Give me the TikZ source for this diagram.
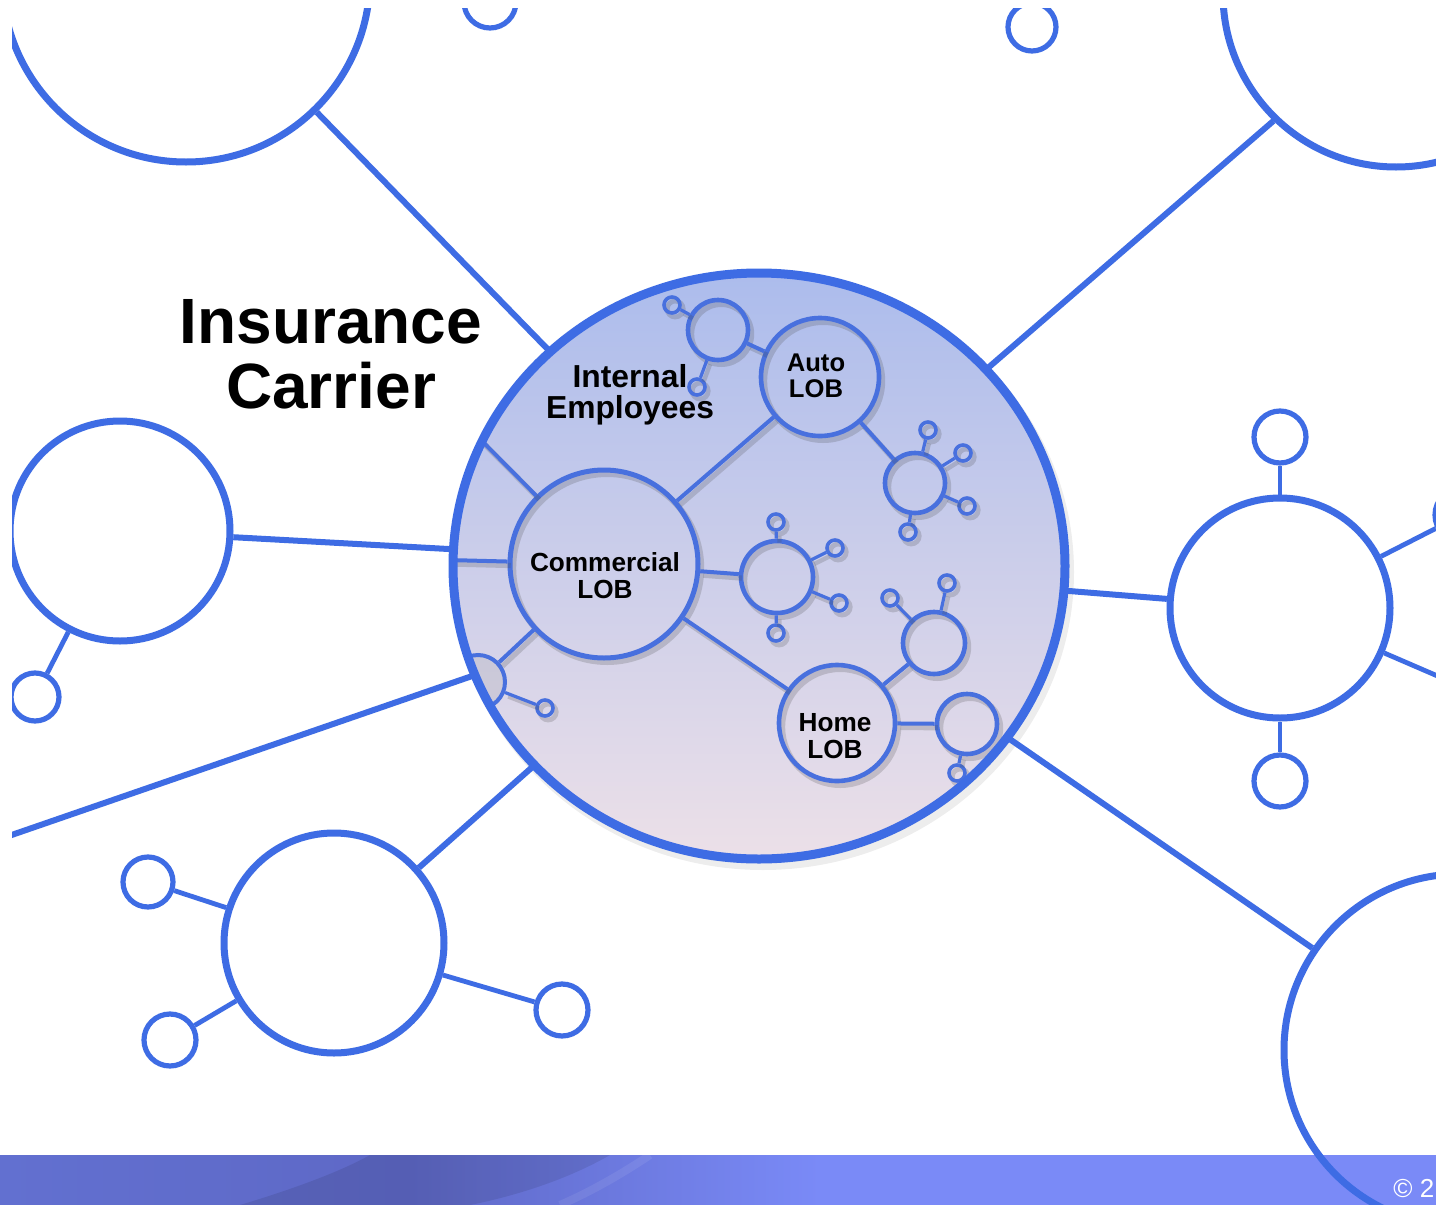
\documentclass[tikz,border=0pt]{standalone}
\usepackage{fontspec}
\setmainfont{Liberation Sans}
\usetikzlibrary{shapes.geometric}
\definecolor{lb}{RGB}{62,108,228}
\definecolor{ib}{RGB}{72,112,222}
\definecolor{ftop}{RGB}{172,188,236}
\definecolor{fbot}{RGB}{236,224,232}
\definecolor{bandA}{RGB}{98,112,208}
\definecolor{bandM}{RGB}{94,104,198}
\definecolor{bandB}{RGB}{122,138,247}
\tikzset{
  oc/.style={circle, draw=lb, line width=3.5pt, inner sep=0pt, minimum size=#1},
  os/.style={circle, draw=lb, line width=2.6pt, inner sep=0pt, minimum size=#1},
  ol/.style={draw=lb, line width=3pt},
  osl/.style={draw=lb, line width=2.4pt},
  sh/.style={preaction={draw=black!70, draw opacity=0.22, line width=#1, transform canvas={shift={(1.6pt,-2pt)}}}},
  ic/.style={circle, draw=ib, line width=2.3pt, inner sep=0pt, minimum size=#1, sh=3pt},
  it/.style={circle, draw=ib, line width=1.8pt, inner sep=0pt, minimum size=#1, sh=2.4pt},
  il/.style={draw=ib, line width=2pt, sh=2.6pt},
  itl/.style={draw=ib, line width=1.6pt, sh=2.2pt},
  lab/.style={font=\bfseries\fontsize{13.1}{13.5}\selectfont, align=center, inner sep=0pt, text=black},
  mainshape/.style={ellipse, minimum width=306pt, minimum height=293pt, inner sep=0pt},
}
\begin{document}
\begin{tikzpicture}[x=0.5pt, y=-0.5pt]
\useasboundingbox (0,0) rectangle (1436,1205);
\fill[white] (0,0) rectangle (1436,1205);
% bottom band
\shade[left color=bandA, right color=bandB, middle color=bandM] (0,1155) rectangle (820,1205);
\fill[bandB] (819,1155) rectangle (1436,1205);
\fill[black, opacity=0.09] (370,1155) -- (610,1155) .. controls (570,1178) and (520,1195) .. (470,1205) -- (240,1205) .. controls (290,1190) and (340,1172) .. (370,1155) -- cycle;
\draw[white, opacity=0.08, line width=4pt] (650,1155) .. controls (620,1175) and (590,1192) .. (560,1205);

\begin{scope}
\clip (12,8) rectangle (1436,1205);
% main circle body
\node[mainshape, top color=ftop, bottom color=fbot,
      preaction={draw=black, draw opacity=0.07, line width=5pt, transform canvas={shift={(2pt,-3pt)}}}] (main) at (759,566) {};
% outer circles
\node[oc=184pt] (TL) at (186,-22) {};
\node[oc=173pt] (TR) at (1396,-6) {};
\node[os=26pt] (TS) at (490,2) {};
\node[os=24pt] (TRS) at (1032,27) {};
\node[oc=110pt] (L) at (120,531) {};
\node[os=24pt] (LS) at (35,697) {};
\node[oc=110pt] (BL) at (334,943) {};
\node[os=25pt] (BL1) at (148,882) {};
\node[os=26pt] (BL2) at (170,1040) {};
\node[os=26pt] (BL3) at (562,1010) {};
\node[oc=110pt] (R) at (1280,608) {};
\node[os=26pt] (R1) at (1280,437) {};
\node[os=26pt] (R2) at (1280,781) {};
\node[os=27pt] (R3) at (1462,515) {};
\node[oc=176pt] (BR) at (1460,1050) {};
\coordinate (lfree) at (0,839);
\coordinate (rfree) at (1470,690);
% outer connectors
\draw[ol] (TL) -- (main);
\draw[ol] (TR.226.9) -- (main);
\draw[ol] (L) -- (main);
\draw[osl] (L) -- (LS);
\draw[ol] (lfree) -- (main.201);
\draw[ol] (BL) -- (main);
\draw[osl] (BL) -- (BL1);
\draw[osl] (BL) -- (BL2);
\draw[osl] (BL) -- (BL3);
\draw[ol] (R) -- (main);
\draw[osl] (R) -- (R1);
\draw[osl] (R) -- (R2);
\draw[osl] (R) -- (R3);
\draw[osl] (R) -- (rfree);
\draw[ol] (main) -- (BR);
\end{scope}

% inner network
\begin{scope}
\clip (main.center) ellipse [x radius=153pt, y radius=146.5pt];
\node[ic=94pt, line width=2.5pt] (comm) at (604,564) {};
\node[ic=59pt] (auto) at (820,377) {};
\node[ic=58pt] (home) at (837,723) {};
\node[ic=30pt] (ieh) at (718,330) {};
\node[it=8pt] (ie1) at (672,305) {};
\node[it=8pt] (ie2) at (697,387) {};
\node[circle, draw=ib, line width=2pt, fill=black!40, fill opacity=0.2, inner sep=0pt, minimum size=27pt] (lens) at (478,682) {};
\node[it=8pt] (lt) at (545,708) {};
\node[ic=36pt] (ch) at (777,577) {};
\node[it=8pt] (ch1) at (776,522) {};
\node[it=8pt] (ch2) at (835,548) {};
\node[it=8pt] (ch3) at (839,603) {};
\node[it=8pt] (ch4) at (776,633) {};
\node[ic=30pt] (ah) at (915,483) {};
\node[it=8pt] (ah1) at (928,430) {};
\node[it=8pt] (ah2) at (963,453) {};
\node[it=8pt] (ah3) at (967,506) {};
\node[it=8pt] (ah4) at (908,532) {};
\node[ic=31pt] (hh) at (934,643) {};
\node[it=8pt] (hh1) at (890,598) {};
\node[it=8pt] (hh2) at (947,583) {};
\node[ic=30pt] (hr) at (967,724) {};
\node[it=8pt] (hr1) at (957,773) {};
\coordinate (b1) at (478,437);
\coordinate (b2) at (448,560);
\draw[itl] (ieh) -- (ie1);
\draw[itl] (ieh) -- (ie2);
\draw[il] (ieh) -- (auto);
\draw[il] (comm) -- (auto);
\draw[il] (comm) -- (b1);
\draw[il] (comm) -- (b2);
\draw[il] (comm) -- (lens);
\draw[itl] (lens) -- (lt);
\draw[il] (comm) -- (ch);
\draw[itl] (ch) -- (ch1);
\draw[itl] (ch) -- (ch2);
\draw[itl] (ch) -- (ch3);
\draw[itl] (ch) -- (ch4);
\draw[il] (auto) -- (ah);
\draw[itl] (ah) -- (ah1);
\draw[itl] (ah) -- (ah2);
\draw[itl] (ah) -- (ah3);
\draw[itl] (ah) -- (ah4);
\draw[il] (comm) -- (home);
\draw[il] (home) -- (hh);
\draw[itl] (hh) -- (hh1);
\draw[itl] (hh) -- (hh2);
\draw[il] (home) -- (hr);
\draw[itl] (hr) -- (hr1);
\end{scope}
% rim of the main circle
\node[mainshape, draw=lb, line width=4.5pt] (rim) at (main.center) {};

% texts
\node[lab, font=\bfseries\fontsize{15.9}{15.5}\selectfont] (tie) at (630,395) {Internal\\Employees};
\node[lab] (tcomm) at (605,576) {Commercial\\LOB};
\node[lab, font=\bfseries\fontsize{12.8}{13}\selectfont] (tauto) at (816,376) {Auto\\LOB};
\node[lab] (thome) at (835,736) {Home\\LOB};
\node[align=center, inner sep=0pt, font=\bfseries\fontsize{32}{32.5}\selectfont] (tins) at (331,354) {Insurance\\Carrier};
\node[anchor=base west, inner sep=0pt, text=white, font=\fontsize{13}{13}\selectfont] (tcopy) at (1393,1197) {© 2};
\end{tikzpicture}
\end{document}
